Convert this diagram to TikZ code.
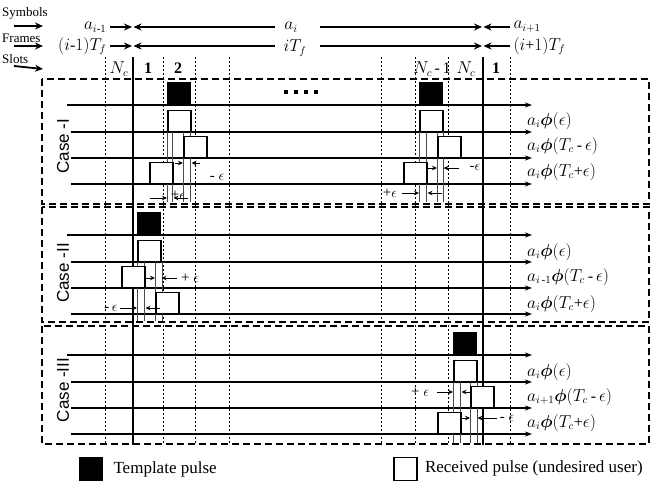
\documentclass[tikz,border=0pt]{standalone}
\usepackage{fontspec}
\setmainfont{Liberation Serif}
\setsansfont{Liberation Sans}
\usepackage{amsmath,bm}
\usetikzlibrary{arrows.meta,positioning}

\newcommand{\sig}[2]{$a_{#1}\bm{\phi}(#2)$}

\begin{document}
\begin{tikzpicture}[x=1pt, y=-1pt, >=Stealth, font=\fontsize{16}{18}\selectfont,
  slotline/.style={line width=0.5pt, dash pattern=on 2pt off 2pt},
  casebox/.style={line width=1.6pt, dash pattern=on 7pt off 4pt},
  track/.style={line width=1.1pt, -{Stealth[length=7pt,width=5pt]}},
  tick/.style={line width=1.8pt, -{Stealth[length=8pt,width=7pt]}},
  tpl/.style={draw, fill=black, line width=1pt, minimum width=23pt, minimum height=22pt, inner sep=0pt, anchor=south west},
  rcv/.style={draw, fill=white, line width=1.5pt, minimum width=23pt, minimum height=21pt, inner sep=0pt, anchor=south west},
  drop/.style={line width=0.5pt, black!70},
  epsarr/.style={line width=1pt, -{Stealth[length=5pt,width=4.5pt]}},
  epslbl/.style={font=\fontsize{15}{15}\selectfont, inner sep=1pt},
  sublbl/.style={anchor=west, inner sep=1pt},
  hdr/.style={anchor=west, font=\fontsize{13}{13}\selectfont, inner sep=0pt},
  caselbl/.style={rotate=90, font=\sffamily\fontsize{17}{17}\selectfont}]
\useasboundingbox (0,0) rectangle (655,480);

% header
\node[hdr] (symb) at (2,13) {Symbols};
\node[hdr] (frm) at (2,38) {Frames};
\node[hdr] (slt) at (2,59) {Slots};
\draw[tick] (14,26) -- (43,26);
\draw[tick] (14,46) -- (43,46);
\draw[tick] (14,66) -- (43,69);

% symbol and frame boundaries
\foreach \y/\n in {27/s, 46/f} {
  \coordinate (\n0) at (110,\y); \coordinate (\n1) at (132,\y);
  \coordinate (\n2) at (275,\y); \coordinate (\n3) at (320,\y);
  \coordinate (\n4) at (482,\y); \coordinate (\n5) at (510,\y);
  \draw[tick] (\n0) -- (\n1);
  \draw[tick] (\n2) -- ([xshift=1.5pt]\n1);
  \draw[tick] (\n3) -- (\n4);
  \draw[tick] (\n5) -- ([xshift=1.5pt]\n4);
}
\node[anchor=east] (aprev) at (s0) {$a_{i\text{-}1}$};
\node (acur) at (291,27) {$a_i$};
\node[anchor=west] (anext) at (s5) {$a_{i+1}$};
\node[anchor=east] (tprev) at (f0) {$(i\text{-}1)T_f$};
\node (tcur) at (295,48) {$iT_f$};
\node[anchor=west] (tnext) at (f5) {$(i\text{+}1)T_f$};

% slots
\foreach \x in {105,163,195,229,381,415,448,510}
  \draw[slotline] (\x,57) -- (\x,445);
\foreach \x in {133,483}
  \draw[line width=1.6pt] (\x,57) -- (\x,445);
\node (sl1) at (119,69) {$N_c$};
\node (sl2) at (148,68) {\textbf{1}};
\node (sl3) at (178,68) {\textbf{2}};
\node (sl4) at (432,69) {$N_c$\,-\,1};
\node (sl5) at (466,69) {$N_c$};
\node (sl6) at (496,68) {\textbf{1}};
\foreach \i in {0,...,3} \fill (284+\i*10,90) rectangle +(4,4);

% cases
\draw[casebox] (42,79) rectangle (649,204);
\draw[casebox] (42,207) rectangle (649,322);
\draw[casebox] (42,326) rectangle (649,444);
\node[caselbl] (c1) at (63,146) {Case -I};
\node[caselbl] (c2) at (63,273) {Case -II};
\node[caselbl] (c3) at (63,390) {Case -III};

\foreach \ya/\yb/\yc/\yd in {105/132/158/184, 235/262/288/314, 355/382/408/434} {
  \draw[track] (67,\ya) -- (532,\ya);
  \foreach \y in {\yb,\yc,\yd} \draw[track] (71,\y) -- (532,\y);
}
\node[sublbl] (l11) at (526,121) {\sig{i}{\epsilon}};
\node[sublbl] (l12) at (526,146) {\sig{i}{T_c\,\text{-}\,\epsilon}};
\node[sublbl] (l13) at (526,172) {\sig{i}{T_c\text{+}\epsilon}};
\node[sublbl] (l21) at (526,252) {\sig{i}{\epsilon}};
\node[sublbl] (l22) at (526,277) {\sig{i\,\text{-}1}{T_c\,\text{-}\,\epsilon}};
\node[sublbl] (l23) at (526,304) {\sig{i}{T_c\text{+}\epsilon}};
\node[sublbl] (l31) at (526,372) {\sig{i}{\epsilon}};
\node[sublbl] (l32) at (526,397) {\sig{i+1}{T_c\,\text{-}\,\epsilon}};
\node[sublbl] (l33) at (526,423) {\sig{i}{T_c\text{+}\epsilon}};

% case I, slot 2
\foreach \x in {167,172,183,190} \draw[drop] (\x,132) -- (\x,202);
\node[tpl] (t1a) at (167,105) {};
\node[rcv] (r1a) at (167,132) {};
\node[rcv] (r1b) at (183,158) {};
\node[rcv] (r1c) at (149,184) {};
\draw[epsarr] (175,163) -- (r1b.south west |- 0,163);
\draw[epsarr] (200,163) -- (r1a.south east |- 0,163);
\node[epslbl] (e1a) at (217,177) {- $\epsilon$};
\draw[epsarr] (150,198) -- (t1a.south west |- 0,198);
\draw[epsarr] (188,198) -- (r1c.south east |- 0,198);
\node[epslbl] (e1b) at (178,195) {+$\epsilon$};

% case I, slot N_c-1
\foreach \x in {419,426,437,443} \draw[drop] (\x,132) -- (\x,202);
\node[tpl] (t1b) at (419,105) {};
\node[rcv] (r1d) at (419,132) {};
\node[rcv] (r1e) at (437,158) {};
\node[rcv] (r1f) at (403,184) {};
\draw[epsarr] (426,168) -- (r1e.south west |- 0,168);
\draw[epsarr] (459,168) -- (r1d.south east |- 0,168);
\node[epslbl] (e1c) at (475,167) {-$\epsilon$};
\draw[epsarr] (402,193) -- (t1b.south west |- 0,193);
\draw[epsarr] (442,193) -- (r1f.south east |- 0,193);
\node[epslbl] (e1d) at (390,193) {+$\epsilon$};

% case II
\foreach \x in {137,144,155,162} \draw[drop] (\x,262) -- (\x,321);
\node[tpl] (t2) at (137,235) {};
\node[rcv] (r2a) at (137,262) {};
\node[rcv] (r2b) at (121,288) {};
\node[rcv] (r2c) at (155,314) {};
\draw[epsarr] (145,278) -- (r2c.south west |- 0,278);
\draw[epsarr] (177,278) -- (r2a.south east |- 0,278);
\node[epslbl] (e2a) at (190,278) {+ $\epsilon$};
\draw[epsarr] (120,308) -- (t2.south west |- 0,308);
\draw[epsarr] (160,308) -- (r2b.south east |- 0,308);
\node[epslbl] (e2b) at (111,308) {-\,$\epsilon$};

% case III
\foreach \x in {453,460,470,477} \draw[drop] (\x,382) -- (\x,443);
\node[tpl] (t3) at (453,355) {};
\node[rcv] (r3a) at (453,382) {};
\node[rcv] (r3b) at (470,408) {};
\node[rcv] (r3c) at (437,434) {};
\draw[epsarr] (437,392) -- (t3.south west |- 0,392);
\draw[epsarr] (472,392) -- (r3c.south east |- 0,392);
\node[epslbl] (e3a) at (420,392) {+ $\epsilon$};
\draw[epsarr] (460,418) -- (r3b.south west |- 0,418);
\draw[epsarr] (497,418) -- (r3a.south east |- 0,418);
\node[epslbl] (e3b) at (507,418) {- $\epsilon$};

% legend
\node[tpl, minimum height=23pt] (lgt) at (79,481) {};
\node[anchor=west, font=\fontsize{17}{17}\selectfont] (lgtxt) at ([xshift=7pt]lgt.east) {Template pulse};
\node[rcv, minimum height=23pt] (lgr) at (393,481) {};
\node[anchor=west, font=\fontsize{17}{17}\selectfont] (lgrxt) at ([xshift=4pt]lgr.east) {Received pulse (undesired user)};
\end{tikzpicture}
\end{document}
